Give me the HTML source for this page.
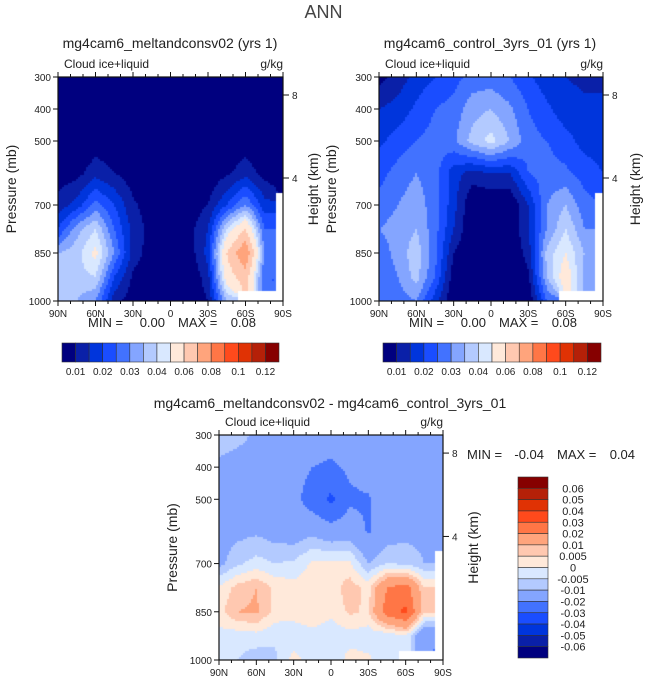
<!DOCTYPE html>
<html><head><meta charset="utf-8">
<style>
body{margin:0;background:#fff;}
#root{position:relative;width:647px;height:684px;overflow:hidden;font-family:"Liberation Sans",sans-serif;color:#222;}
.t{position:absolute;white-space:nowrap;}
canvas{position:absolute;}
svg{position:absolute;left:0;top:0;}
</style></head><body>
<div id="root">
<div class="t" style="left:0;width:647px;text-align:center;top:2px;font-size:18px;color:#444;">ANN</div>
<div class="t" style="left:20px;width:300px;text-align:center;top:35px;font-size:14px;">mg4cam6_meltandconsv02 (yrs 1)</div>
<div class="t" style="left:340px;width:300px;text-align:center;top:35px;font-size:14px;">mg4cam6_control_3yrs_01 (yrs 1)</div>
<div class="t" style="left:100px;width:460px;text-align:center;top:395px;font-size:14px;">mg4cam6_meltandconsv02 - mg4cam6_control_3yrs_01</div>
<canvas id="c1" width="225" height="224" style="left:58px;top:77px"></canvas>
<canvas id="c2" width="224" height="224" style="left:379px;top:77px"></canvas>
<canvas id="c3" width="224" height="225" style="left:219px;top:435px"></canvas>
<svg id="ov" width="647" height="684"></svg>
</div>
<script>
const lats=[90,75,60,45,30,15,0,-15,-30,-45,-60,-75,-90];
const plev=[300,400,500,600,700,775,850,925,1000];
const N=NaN;
const field1=[
[0,0,0,0,0,0,0,0,0,0,0,0,0],
[0,0,0,0,0,0,0,0,0,0,0,0,0],
[0,0,0.002,0.001,0,0,0.002,0,0,0,0.002,0,0],
[0.002,0.003,0.008,0.005,0.002,0,0.002,0,0.001,0.004,0.008,0.003,0.002],
[0.007,0.012,0.022,0.015,0.006,0.002,0,0.002,0.005,0.015,0.025,0.012,N],
[0.015,0.028,0.035,0.02,0.008,0.003,0,0.003,0.01,0.035,0.05,0.02,N],
[0.03,0.033,0.042,0.025,0.008,0.002,0.003,0.002,0.012,0.05,0.07,0.025,N],
[0.03,0.033,0.035,0.015,0.004,0,0,0,0.008,0.045,0.055,0.02,N],
[0.03,0.03,0.025,0.007,0.002,0,0,0,0.005,0.03,N,N,N]];
const field2=[
[0.003,0.007,0.012,0.015,0.018,0.022,0.022,0.02,0.016,0.012,0.01,0.009,0.009],
[0.01,0.012,0.016,0.02,0.022,0.028,0.03,0.026,0.02,0.016,0.012,0.011,0.011],
[0.014,0.017,0.02,0.022,0.024,0.032,0.037,0.03,0.022,0.02,0.017,0.013,0.012],
[0.018,0.022,0.025,0.022,0.012,0.008,0.01,0.01,0.02,0.022,0.021,0.018,0.015],
[0.022,0.025,0.028,0.022,0.012,0,0,0,0.01,0.025,0.03,0.022,N],
[0.025,0.027,0.03,0.022,0.01,0,0,0,0.01,0.025,0.035,0.025,N],
[0.022,0.027,0.033,0.022,0.005,0,0,0,0.007,0.032,0.04,0.03,N],
[0.02,0.025,0.032,0.02,0.002,0,0,0,0.004,0.03,0.045,0.028,N],
[0.02,0.022,0.025,0.012,0,0,0,0,0,0.02,N,N,N]];
const field3=[
[-0.006,-0.008,-0.011,-0.012,-0.013,-0.014,-0.015,-0.014,-0.013,-0.012,-0.012,-0.012,-0.012],
[-0.012,-0.013,-0.014,-0.015,-0.016,-0.02,-0.022,-0.018,-0.015,-0.014,-0.013,-0.013,-0.013],
[-0.013,-0.013,-0.014,-0.015,-0.017,-0.025,-0.032,-0.022,-0.021,-0.015,-0.014,-0.013,-0.013],
[-0.013,-0.012,-0.011,-0.013,-0.014,-0.012,-0.016,-0.014,-0.021,-0.014,-0.012,-0.012,-0.012],
[-0.012,-0.006,-0.003,-0.005,-0.004,0.001,0.002,0.001,-0.01,-0.005,-0.006,-0.01,N],
[0.001,0.007,0.01,0.004,0.002,0.003,0.002,0.008,0.003,0.02,0.025,0.005,N],
[0.003,0.01,0.011,0.003,0.002,0.004,0.001,0.006,0.004,0.025,0.032,0.006,N],
[-0.002,-0.003,-0.002,-0.004,-0.003,-0.002,-0.003,-0.002,-0.003,-0.004,0.0,-0.02,N],
[-0.004,-0.005,-0.008,-0.006,0.002,-0.003,-0.004,0.002,0.001,-0.003,N,N,N]];
const levels1=[0.005,0.01,0.015,0.02,0.025,0.03,0.035,0.04,0.05,0.06,0.07,0.08,0.09,0.1,0.12];
const levels3=[-0.06,-0.05,-0.04,-0.03,-0.02,-0.01,-0.005,0,0.005,0.01,0.02,0.03,0.04,0.05,0.06];
const cbLabels1=["0.01","0.02","0.03","0.04","0.06","0.08","0.1","0.12"];
const cbLabels3=["0.06","0.05","0.04","0.03","0.02","0.01","0.005","0","-0.005","-0.01","-0.02","-0.03","-0.04","-0.05","-0.06"];
const palette=["#00007f","#0a20a8","#0035dc","#1a4dff","#4272ff","#84a5ff","#b3caff","#d9e8ff","#ffe9da","#ffc8b0","#ffa47c","#ff7646","#ff4a1c","#e03204","#b52008","#860000"];

function idx(v,lev){let i=0;while(i<lev.length&&v>=lev[i])i++;return i;}
function yOfP(p,top,h){return top+(p-300)/700*h;}
function xOfLat(l,left,w){return left+(90-l)/180*w;}
function sample(f,lat,p){
  const fi=(90-lat)/15;const i0=Math.min(11,Math.floor(fi));const tx=fi-i0;
  let j0=0;while(j0<plev.length-2&&p>plev[j0+1])j0++;
  const ty=(p-plev[j0])/(plev[j0+1]-plev[j0]);
  const ni=i0+(tx>0.62?1:0),nj=j0+(ty>0.6?1:0);
  if(isNaN(f[nj][ni]))return NaN;
  const c=[[f[j0][i0],(1-tx)*(1-ty)],[f[j0][i0+1],tx*(1-ty)],[f[j0+1][i0],(1-tx)*ty],[f[j0+1][i0+1],tx*ty]];
  let s=0,w=0;for(const [v,ww] of c){if(!isNaN(v)){s+=v*ww;w+=ww;}}
  return w>0?s/w:NaN;
}
function draw(id,f,lev,colors){
  const cv=document.getElementById(id),ctx=cv.getContext('2d');const W=cv.width,H=cv.height;
  for(let y=0;y<H;y+=2)for(let x=0;x<W;x+=2){
    const lat=90-(x+1)/W*180,p=300+(y+1)/H*700;
    const v=sample(f,lat,p);
    ctx.fillStyle=isNaN(v)?"#fff":colors[idx(v,lev)];
    ctx.fillRect(x,y,2,2);
  }
}
draw('c1',field1,levels1,palette);
draw('c2',field2,levels1,palette);
draw('c3',field3,levels3,palette);

const ov=document.getElementById('ov');const NS="http://www.w3.org/2000/svg";
function el(tag,attrs,parent){const e=document.createElementNS(NS,tag);for(const k in attrs)e.setAttribute(k,attrs[k]);(parent||ov).appendChild(e);return e;}
function txt(s,x,y,size,anchor,rot){const e=el('text',{x:x,y:y,'font-size':size,'text-anchor':anchor||'middle',fill:'#222','font-family':'Liberation Sans, sans-serif'});if(rot)e.setAttribute('transform','rotate(-90 '+x+' '+y+')');e.textContent=s;return e;}
const xLab=["90N","60N","30N","0","30S","60S","90S"];
const pLab=[300,400,500,700,850,1000];
function axes(L,T,W,H,name,tl,hx){
  const g=el('g',{});
  
  
  el('rect',{x:L,y:T,width:W,height:H,fill:'none',stroke:'#111','stroke-width':1.2},g);
  for(let l=90;l>=-90;l-=10){const x=xOfLat(l,L,W);const m=(l%30===0);
    el('line',{x1:x,y1:T+H,x2:x,y2:T+H+(m?5:3),stroke:'#111'},g);
    el('line',{x1:x,y1:T,x2:x,y2:T-(m?5:3),stroke:'#111'},g);}
  xLab.forEach((s,i)=>{const t=txt(s,xOfLat(90-30*i,L,W),T+H+16,10);g.appendChild(t);});
  pLab.forEach(p=>{const y=yOfP(p,T,H);el('line',{x1:L-5,y1:y,x2:L,y2:y,stroke:'#111'},g);const t=txt(String(p),L-7,y+4,10,'end');g.appendChild(t);});
  [[8,95-77],[4,178-77]].forEach(([k,dy])=>{const y=T+dy*H/224;el('line',{x1:L+W,y1:y,x2:L+W+6,y2:y,stroke:'#111'},g);const t=txt(String(k),L+W+9,y+4,10,'start');g.appendChild(t);});
  const a=txt('Cloud ice+liquid',L+6,T-9,12,'start');g.appendChild(a);
  const b=txt('g/kg',L+W,T-9,12,'end');g.appendChild(b);
  const c=txt('Pressure (mb)',tl,T+H/2,14,'middle',true);g.appendChild(c);
  const d=txt('Height (km)',hx,T+H/2,14,'middle',true);g.appendChild(d);
}
axes(58,77,225,224,'panel1',16,318);
axes(379,77,224,224,'panel2',336,640);
axes(219,435,224,225,'panel3',177,478);
function minmax(x,y,mn,mx,name){
  const g=el('g',{});
  
  
  [['MIN =',x,'start'],[mn,x+77,'end'],['MAX =',x+90,'start'],[mx,x+168,'end']].forEach(([s,xx,a])=>{const t=txt(s,xx,y,13,a);g.appendChild(t);});
}
minmax(88,327,'0.00','0.08','panel1-minmax');
minmax(409,327,'0.00','0.08','panel2-minmax');
minmax(467,459,'-0.04','0.04','panel3-minmax');
function hbar(L,T,W,H,name){
  const g=el('g',{});
  
  
  const bw=W/16;
  palette.forEach((c,i)=>{el('rect',{x:L+i*bw,y:T,width:bw,height:H,fill:c,stroke:'#333','stroke-width':0.6},g);});
  cbLabels1.forEach((s,i)=>{const t=txt(s,L+bw+i*(W-2*bw)/7,T+H+13,10);g.appendChild(t);});
}
hbar(62,343,217,19,'colorbar-panel1');
hbar(383,343,218,19,'colorbar-panel2');
(function(){const L=518,T=477,W=30,H=181;const bh=H/16;
  const g=el('g',{});
  
  
  palette.slice().reverse().forEach((c,i)=>{el('rect',{x:L,y:T+i*bh,width:W,height:bh,fill:c,stroke:'#333','stroke-width':0.6},g);});
  cbLabels3.forEach((s,i)=>{const t=txt(s,L+55,T+(i+1)*bh+4,11,'middle');g.appendChild(t);});
})();
</script>
</body></html>
